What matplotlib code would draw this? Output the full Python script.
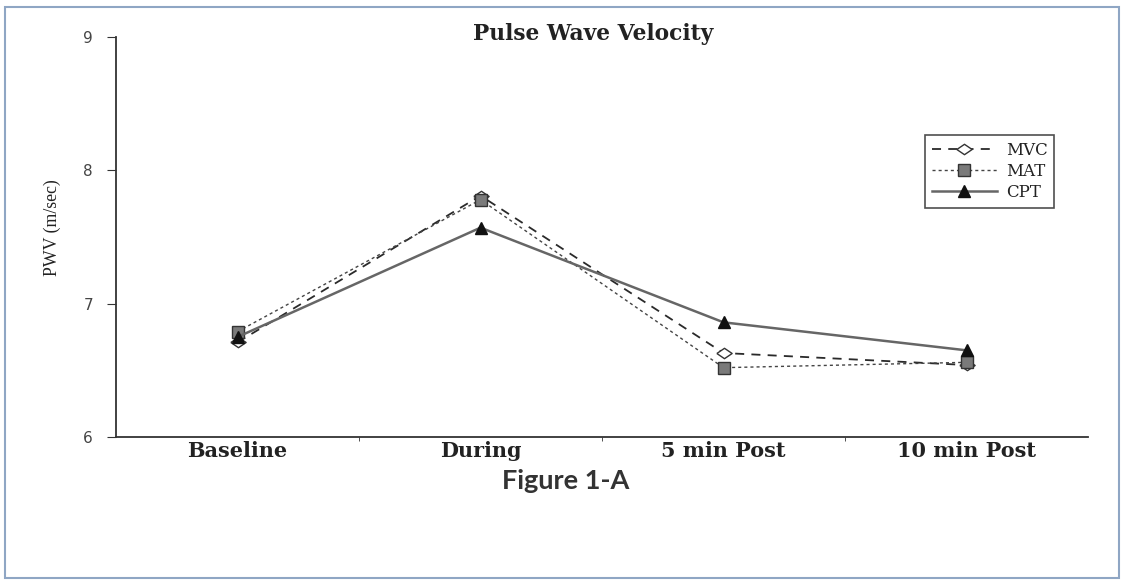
import matplotlib
matplotlib.use("Agg")
import matplotlib.pyplot as plt
from matplotlib.patches import Rectangle

categories = ["Baseline", "During", "5 min Post", "10 min Post"]
mvc = [6.71, 7.81, 6.63, 6.54]
mat = [6.79, 7.78, 6.52, 6.56]
cpt = [6.75, 7.57, 6.86, 6.65]
yticks = [6, 7, 8, 9]

W, H = 1125, 584
fig = plt.figure(figsize=(11.25, 5.84), dpi=100)
fig.patches.append(Rectangle((5/W, 6/H), 1114/W, 571/H, transform=fig.transFigure,
                             fill=False, edgecolor="#8fa6c4", linewidth=1.5))
ax = fig.add_axes([116/W, 1-437/H, 972/W, 400/H])

diamond = [(-1, 0), (0, 0.68), (1, 0), (0, -0.68), (-1, 0)]
x = list(range(len(categories)))
ax.plot(x, mvc, linestyle=(0, (5, 4)), color="#2a2a2a", linewidth=1.3, marker=diamond,
        markersize=11, markerfacecolor="white", markeredgecolor="#333333", markeredgewidth=1.0,
        label="MVC")
ax.plot(x, mat, linestyle=(0, (2.2, 2.2)), color="#444444", linewidth=1.0, marker="s",
        markersize=9, markerfacecolor="#7a7a7a", markeredgecolor="#333333", label="MAT")
ax.plot(x, cpt, linestyle="-", color="#666666", linewidth=1.8, marker="^",
        markersize=8, markerfacecolor="#111111", markeredgecolor="#111111", label="CPT")

ax.set_xlim(-0.5, 3.5)
ax.set_ylim(6, 9)
ax.set_yticks(yticks)
ax.set_yticklabels([str(v) for v in yticks], fontfamily="DejaVu Sans", fontsize=11, color="#444444")
ax.set_xticks(x)
ax.set_xticklabels(categories, fontfamily="DejaVu Serif", fontsize=12, fontweight="bold", color="#222222")
ax.tick_params(axis="x", length=0, pad=3)
ax.set_xticks([0.5, 1.5, 2.5], minor=True)
ax.tick_params(axis="x", which="minor", length=3, direction="out", color="#333333")
ax.tick_params(axis="y", length=6.5, direction="out", color="#333333", pad=10)

for s in ["top", "right"]:
    ax.spines[s].set_visible(False)
for s in ["left", "bottom"]:
    ax.spines[s].set_color("#333333")
    ax.spines[s].set_linewidth(1.3)

ylab = ax.set_ylabel("PWV (m/sec)", fontfamily="Liberation Serif", fontsize=12, color="#222222")
ylab.set_rotation_mode("default")
ylab.set_horizontalalignment("center")
ylab.set_verticalalignment("center")
ax.yaxis.set_label_coords((52-116)/972, (437-228)/400)

title = fig.text(593/W, 1-34/H, "Pulse Wave Velocity", ha="center", va="center",
                 fontfamily="DejaVu Serif", fontsize=13, fontweight="bold", color="#222222")
figlab = fig.text(566/W, 1-481/H, "Figure 1-A", ha="center", va="center",
                  fontfamily="Lato", fontsize=16, fontweight="bold", color="#333333")

leg = ax.legend(loc="upper left", bbox_to_anchor=(925/W, 1-135/H), bbox_transform=fig.transFigure,
                frameon=True, fancybox=False, edgecolor="#222222", handlelength=3.9, numpoints=1,
                prop={"family": "DejaVu Serif", "size": 12}, borderpad=0.4, labelspacing=0.25,
                handletextpad=0.55, borderaxespad=0)
leg.get_frame().set_linewidth(1.2)
for t in leg.get_texts():
    t.set_color("#222222")

# size text to the extents measured on the reference
fig.canvas.draw()
r = fig.canvas.get_renderer()

def fit_w(t, target):
    w = t.get_window_extent(r).width
    t.set_fontsize(t.get_fontsize() * target / w)

def fit_h(t, target):
    h = t.get_window_extent(r).height
    t.set_fontsize(t.get_fontsize() * target / h)

fit_w(title, 240)
fit_w(figlab, 128)
fit_h(ylab, 97)
lbl = ax.get_xticklabels()[0]
w0 = lbl.get_window_extent(r).width
fs = lbl.get_fontsize() * 100 / w0
for t in ax.get_xticklabels():
    t.set_fontsize(fs)

fig.savefig("out.png", dpi=100)
